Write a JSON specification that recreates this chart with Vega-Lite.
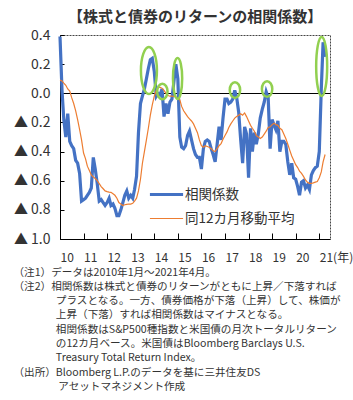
{
  "$schema": "https://vega.github.io/schema/vega-lite/v6.json",
  "width": 270,
  "height": 204,
  "autosize": {"type": "none"},
  "padding": {"left": 60, "top": 35, "right": 23, "bottom": 161},
  "background": "white",
  "config": {
    "font": "Noto Sans CJK JP",
    "view": {"stroke": "#444", "strokeDash": [2, 1]}
  },
  "title": {
    "text": "【株式と債券のリターンの相関係数】",
    "fontSize": 15,
    "fontWeight": "bold",
    "color": "#333",
    "offset": 3,
    "anchor": "middle"
  },
  "data": {
    "values": [
      {"d": "2010-01", "相関係数": 0.39, "同12カ月移動平均": 0.09},
      {"d": "2010-02", "相関係数": 0.02, "同12カ月移動平均": 0.085},
      {"d": "2010-03", "相関係数": -0.18, "同12カ月移動平均": 0.07},
      {"d": "2010-04", "相関係数": -0.30, "同12カ月移動平均": 0.055},
      {"d": "2010-05", "相関係数": -0.14, "同12カ月移動平均": 0.03},
      {"d": "2010-06", "相関係数": -0.33, "同12カ月移動平均": 0.015},
      {"d": "2010-07", "相関係数": -0.36, "同12カ月移動平均": -0.03},
      {"d": "2010-08", "相関係数": -0.38, "同12カ月移動平均": -0.07},
      {"d": "2010-09", "相関係数": -0.46, "同12カ月移動平均": -0.12},
      {"d": "2010-10", "相関係数": -0.48, "同12カ月移動平均": -0.18},
      {"d": "2010-11", "相関係数": -0.55, "同12カ月移動平均": -0.25},
      {"d": "2010-12", "相関係数": -0.74, "同12カ月移動平均": -0.32},
      {"d": "2011-01", "相関係数": -0.73, "同12カ月移動平均": -0.41},
      {"d": "2011-02", "相関係数": -0.72, "同12カ月移動平均": -0.45},
      {"d": "2011-03", "相関係数": -0.70, "同12カ月移動平均": -0.50},
      {"d": "2011-04", "相関係数": -0.68, "同12カ月移動平均": -0.53},
      {"d": "2011-05", "相関係数": -0.65, "同12カ月移動平均": -0.56},
      {"d": "2011-06", "相関係数": -0.44, "同12カ月移動平均": -0.575},
      {"d": "2011-07", "相関係数": -0.52, "同12カ月移動平均": -0.585},
      {"d": "2011-08", "相関係数": -0.62, "同12カ月移動平均": -0.60},
      {"d": "2011-09", "相関係数": -0.74, "同12カ月移動平均": -0.62},
      {"d": "2011-10", "相関係数": -0.73, "同12カ月移動平均": -0.64},
      {"d": "2011-11", "相関係数": -0.75, "同12カ月移動平均": -0.655},
      {"d": "2011-12", "相関係数": -0.77, "同12カ月移動平均": -0.67},
      {"d": "2012-01", "相関係数": -0.75, "同12カ月移動平均": -0.675},
      {"d": "2012-02", "相関係数": -0.72, "同12カ月移動平均": -0.678},
      {"d": "2012-03", "相関係数": -0.77, "同12カ月移動平均": -0.68},
      {"d": "2012-04", "相関係数": -0.76, "同12カ月移動平均": -0.69},
      {"d": "2012-05", "相関係数": -0.79, "同12カ月移動平均": -0.70},
      {"d": "2012-06", "相関係数": -0.84, "同12カ月移動平均": -0.72},
      {"d": "2012-07", "相関係数": -0.84, "同12カ月移動平均": -0.75},
      {"d": "2012-08", "相関係数": -0.80, "同12カ月移動平均": -0.76},
      {"d": "2012-09", "相関係数": -0.75, "同12カ月移動平均": -0.77},
      {"d": "2012-10", "相関係数": -0.70, "同12カ月移動平均": -0.765},
      {"d": "2012-11", "相関係数": -0.67, "同12カ月移動平均": -0.762},
      {"d": "2012-12", "相関係数": -0.72, "同12カ月移動平均": -0.76},
      {"d": "2013-01", "相関係数": -0.70, "同12カ月移動平均": -0.76},
      {"d": "2013-02", "相関係数": -0.72, "同12カ月移動平均": -0.755},
      {"d": "2013-03", "相関係数": -0.66, "同12カ月移動平均": -0.74},
      {"d": "2013-04", "相関係数": -0.57, "同12カ月移動平均": -0.72},
      {"d": "2013-05", "相関係数": -0.27, "同12カ月移動平均": -0.67},
      {"d": "2013-06", "相関係数": -0.07, "同12カ月移動平均": -0.59},
      {"d": "2013-07", "相関係数": -0.02, "同12カ月移動平均": -0.48},
      {"d": "2013-08", "相関係数": 0.03, "同12カ月移動平均": -0.40},
      {"d": "2013-09", "相関係数": 0.10, "同12カ月移動平均": -0.32},
      {"d": "2013-10", "相関係数": 0.17, "同12カ月移動平均": -0.24},
      {"d": "2013-11", "相関係数": 0.23, "同12カ月移動平均": -0.15},
      {"d": "2013-12", "相関係数": 0.24, "同12カ月移動平均": -0.08},
      {"d": "2014-01", "相関係数": 0.15, "同12カ月移動平均": -0.02},
      {"d": "2014-02", "相関係数": -0.02, "同12カ月移動平均": 0.02},
      {"d": "2014-03", "相関係数": 0.00, "同12カ月移動平均": 0.04},
      {"d": "2014-04", "相関係数": -0.01, "同12カ月移動平均": 0.04},
      {"d": "2014-05", "相関係数": 0.03, "同12カ月移動平均": 0.035},
      {"d": "2014-06", "相関係数": -0.16, "同12カ月移動平均": 0.02},
      {"d": "2014-07", "相関係数": -0.07, "同12カ月移動平均": 0.0},
      {"d": "2014-08", "相関係数": -0.14, "同12カ月移動平均": -0.015},
      {"d": "2014-09", "相関係数": -0.06, "同12カ月移動平均": -0.02},
      {"d": "2014-10", "相関係数": -0.04, "同12カ月移動平均": -0.02},
      {"d": "2014-11", "相関係数": 0.08, "同12カ月移動平均": -0.022},
      {"d": "2014-12", "相関係数": 0.20, "同12カ月移動平均": -0.025},
      {"d": "2015-01", "相関係数": 0.10, "同12カ月移動平均": -0.035},
      {"d": "2015-02", "相関係数": -0.30, "同12カ月移動平均": -0.045},
      {"d": "2015-03", "相関係数": -0.37, "同12カ月移動平均": -0.09},
      {"d": "2015-04", "相関係数": -0.38, "同12カ月移動平均": -0.12},
      {"d": "2015-05", "相関係数": -0.36, "同12カ月移動平均": -0.14},
      {"d": "2015-06", "相関係数": -0.29, "同12カ月移動平均": -0.16},
      {"d": "2015-07", "相関係数": -0.26, "同12カ月移動平均": -0.175},
      {"d": "2015-08", "相関係数": -0.32, "同12カ月移動平均": -0.19},
      {"d": "2015-09", "相関係数": -0.38, "同12カ月移動平均": -0.21},
      {"d": "2015-10", "相関係数": -0.42, "同12カ月移動平均": -0.24},
      {"d": "2015-11", "相関係数": -0.44, "同12カ月移動平均": -0.27},
      {"d": "2015-12", "相関係数": -0.44, "同12カ月移動平均": -0.32},
      {"d": "2016-01", "相関係数": -0.52, "同12カ月移動平均": -0.36},
      {"d": "2016-02", "相関係数": -0.38, "同12カ月移動平均": -0.37},
      {"d": "2016-03", "相関係数": -0.33, "同12カ月移動平均": -0.36},
      {"d": "2016-04", "相関係数": -0.32, "同12カ月移動平均": -0.365},
      {"d": "2016-05", "相関係数": -0.33, "同12カ月移動平均": -0.37},
      {"d": "2016-06", "相関係数": -0.38, "同12カ月移動平均": -0.38},
      {"d": "2016-07", "相関係数": -0.42, "同12カ月移動平均": -0.395},
      {"d": "2016-08", "相関係数": -0.47, "同12カ月移動平均": -0.40},
      {"d": "2016-09", "相関係数": -0.35, "同12カ月移動平均": -0.38},
      {"d": "2016-10", "相関係数": -0.23, "同12カ月移動平均": -0.36},
      {"d": "2016-11", "相関係数": -0.32, "同12カ月移動平均": -0.345},
      {"d": "2016-12", "相関係数": -0.17, "同12カ月移動平均": -0.315},
      {"d": "2017-01", "相関係数": -0.04, "同12カ月移動平均": -0.29},
      {"d": "2017-02", "相関係数": -0.04, "同12カ月移動平均": -0.265},
      {"d": "2017-03", "相関係数": -0.07, "同12カ月移動平均": -0.235},
      {"d": "2017-04", "相関係数": -0.06, "同12カ月移動平均": -0.21},
      {"d": "2017-05", "相関係数": -0.04, "同12カ月移動平均": -0.19},
      {"d": "2017-06", "相関係数": 0.02, "同12カ月移動平均": -0.17},
      {"d": "2017-07", "相関係数": -0.03, "同12カ月移動平均": -0.16},
      {"d": "2017-08", "相関係数": -0.13, "同12カ月移動平均": -0.15},
      {"d": "2017-09", "相関係数": -0.32, "同12カ月移動平均": -0.14},
      {"d": "2017-10", "相関係数": -0.48, "同12カ月移動平均": -0.15},
      {"d": "2017-11", "相関係数": -0.23, "同12カ月移動平均": -0.135},
      {"d": "2017-12", "相関係数": -0.28, "同12カ月移動平均": -0.16},
      {"d": "2018-01", "相関係数": -0.58, "同12カ月移動平均": -0.19},
      {"d": "2018-02", "相関係数": -0.24, "同12カ月移動平均": -0.22},
      {"d": "2018-03", "相関係数": -0.40, "同12カ月移動平均": -0.24},
      {"d": "2018-04", "相関係数": -0.27, "同12カ月移動平均": -0.26},
      {"d": "2018-05", "相関係数": -0.35, "同12カ月移動平均": -0.29},
      {"d": "2018-06", "相関係数": -0.28, "同12カ月移動平均": -0.30},
      {"d": "2018-07", "相関係数": -0.17, "同12カ月移動平均": -0.31},
      {"d": "2018-08", "相関係数": -0.11, "同12カ月移動平均": -0.30},
      {"d": "2018-09", "相関係数": -0.06, "同12カ月移動平均": -0.28},
      {"d": "2018-10", "相関係数": 0.01, "同12カ月移動平均": -0.26},
      {"d": "2018-11", "相関係数": -0.03, "同12カ月移動平均": -0.235},
      {"d": "2018-12", "相関係数": -0.38, "同12カ月移動平均": -0.23},
      {"d": "2019-01", "相関係数": -0.18, "同12カ月移動平均": -0.215},
      {"d": "2019-02", "相関係数": -0.22, "同12カ月移動平均": -0.205},
      {"d": "2019-03", "相関係数": -0.25, "同12カ月移動平均": -0.215},
      {"d": "2019-04", "相関係数": -0.19, "同12カ月移動平均": -0.22},
      {"d": "2019-05", "相関係数": -0.40, "同12カ月移動平均": -0.24},
      {"d": "2019-06", "相関係数": -0.33, "同12カ月移動平均": -0.25},
      {"d": "2019-07", "相関係数": -0.33, "同12カ月移動平均": -0.28},
      {"d": "2019-08", "相関係数": -0.35, "同12カ月移動平均": -0.31},
      {"d": "2019-09", "相関係数": -0.47, "同12カ月移動平均": -0.35},
      {"d": "2019-10", "相関係数": -0.56, "同12カ月移動平均": -0.39},
      {"d": "2019-11", "相関係数": -0.48, "同12カ月移動平均": -0.43},
      {"d": "2019-12", "相関係数": -0.58, "同12カ月移動平均": -0.46},
      {"d": "2020-01", "相関係数": -0.59, "同12カ月移動平均": -0.49},
      {"d": "2020-02", "相関係数": -0.64, "同12カ月移動平均": -0.51},
      {"d": "2020-03", "相関係数": -0.70, "同12カ月移動平均": -0.535},
      {"d": "2020-04", "相関係数": -0.61, "同12カ月移動平均": -0.55},
      {"d": "2020-05", "相関係数": -0.60, "同12カ月移動平均": -0.57},
      {"d": "2020-06", "相関係数": -0.65, "同12カ月移動平均": -0.595},
      {"d": "2020-07", "相関係数": -0.63, "同12カ月移動平均": -0.61},
      {"d": "2020-08", "相関係数": -0.66, "同12カ月移動平均": -0.618},
      {"d": "2020-09", "相関係数": -0.56, "同12カ月移動平均": -0.618},
      {"d": "2020-10", "相関係数": -0.53, "同12カ月移動平均": -0.615},
      {"d": "2020-11", "相関係数": -0.51, "同12カ月移動平均": -0.61},
      {"d": "2020-12", "相関係数": -0.50, "同12カ月移動平均": -0.605},
      {"d": "2021-01", "相関係数": -0.40, "同12カ月移動平均": -0.58},
      {"d": "2021-02", "相関係数": 0.03, "同12カ月移動平均": -0.54},
      {"d": "2021-03", "相関係数": 0.35, "同12カ月移動平均": -0.47},
      {"d": "2021-04", "相関係数": 0.25, "同12カ月移動平均": -0.42}
    ]
  },
  "encoding": {
    "x": {
      "field": "d",
      "type": "temporal",
      "scale": {"domain": [{"year": 2010, "month": 1, "date": 1}, {"year": 2021, "month": 6, "date": 16}]},
      "axis": {
        "values": [{"year": 2010}, {"year": 2011}, {"year": 2012}, {"year": 2013}, {"year": 2014}, {"year": 2015}, {"year": 2016}, {"year": 2017}, {"year": 2018}, {"year": 2019}, {"year": 2020}, {"year": 2021}],
        "labelExpr": "timeFormat(datum.value, '%y') == '21' ? '21(年)' : timeFormat(datum.value, '%y')",
        "labelAlign": "left",
        "labelDx": -8,
        "labelBaseline": "middle",
        "labelPadding": 24,
        "labelFontSize": 12,
        "labelColor": "#333",
        "labelOverlap": false,
        "labelFlush": false,
        "labelBound": false,
        "grid": false,
        "domainColor": "#000",
        "tickColor": "#000",
        "tickSize": -6,
        "title": [
          "（注1）データは2010年1月～2021年4月。",
          "（注2）相関係数は株式と債券のリターンがともに上昇／下落すれば",
          "​　　　　プラスとなる。一方、債券価格が下落（上昇）して、株価が",
          "​　　　　上昇（下落）すれば相関係数はマイナスとなる。",
          "​　　　　相関係数はS&P500種指数と米国債の月次トータルリターン",
          "​　　　　の12カ月ベース。米国債はBloomberg Barclays U.S.",
          "​　　　　Treasury Total Return Index。",
          "（出所）Bloomberg L.P.のデータを基に三井住友DS",
          "​　　　　 アセットマネジメント作成"
        ],
        "titleFontSize": 10.6,
        "titleFontWeight": "normal",
        "titleColor": "#333",
        "titleAnchor": "start",
        "titleAlign": "left",
        "titleBaseline": "top",
        "titleX": -47,
        "titleY": 28,
        "titleLineHeight": 14.3
      }
    },
    "y": {
      "field": "v",
      "type": "quantitative",
      "scale": {"domain": [-1, 0.4], "nice": false, "zero": false},
      "axis": {
        "values": [-1, -0.8, -0.6, -0.4, -0.2, 0, 0.2, 0.4],
        "labelExpr": "datum.value < -0.001 ? '▲ ' + format(-datum.value, '.1f') : format(datum.value, '.1f')",
        "labelFontSize": 14,
        "labelColor": "#333",
        "labelPadding": 14,
        "labelOverlap": false,
        "labelBound": false,
        "labelFlush": false,
        "tickSize": -4,
        "tickColor": "#000",
        "domainColor": "#000",
        "grid": true,
        "gridColor": "#000",
        "gridOpacity": {"condition": {"test": "abs(datum.value) < 0.001", "value": 1}, "value": 0},
        "title": null
      }
    }
  },
  "layer": [
    {
      "transform": [
        {"fold": ["相関係数", "同12カ月移動平均"], "as": ["s", "v"]},
        {"filter": "datum.s == '相関係数'"}
      ],
      "mark": {"type": "line"},
      "encoding": {
        "color": {
          "field": "s",
          "type": "nominal",
          "scale": {"domain": ["相関係数", "同12カ月移動平均"], "range": ["#4472C4", "#ED7D31"]},
          "legend": {
            "orient": "none",
            "legendX": 88,
            "legendY": 141,
            "title": null,
            "symbolType": "stroke",
            "symbolSize": 1100,
            "symbolStrokeWidth": 2,
            "labelFontSize": 13.5,
            "labelColor": "#333",
            "labelOffset": 0,
            "rowPadding": 0,
            "padding": 0
          }
        },
        "strokeWidth": {
          "field": "s",
          "type": "nominal",
          "scale": {"domain": ["相関係数", "同12カ月移動平均"], "range": [3.2, 1.2]},
          "legend": null
        }
      }
    },
    {
      "transform": [
        {"fold": ["相関係数", "同12カ月移動平均"], "as": ["s", "v"]},
        {"filter": "datum.s == '同12カ月移動平均'"}
      ],
      "mark": {"type": "line"},
      "encoding": {
        "color": {"field": "s", "type": "nominal"},
        "strokeWidth": {"field": "s", "type": "nominal"}
      }
    },
    {
      "data": {
        "values": [
          {"d": "2013-10-10", "v": 0.156, "r": "a"},
          {"d": "2014-05-06", "v": 0.012, "r": "s"},
          {"d": "2014-12-28", "v": 0.101, "r": "b"},
          {"d": "2017-06-04", "v": 0.022, "r": "s"},
          {"d": "2018-10-15", "v": 0.029, "r": "s"},
          {"d": "2021-02-07", "v": 0.184, "r": "c"}
        ]
      },
      "mark": {"type": "point", "filled": false, "strokeWidth": 2.5, "color": "#92D050", "opacity": 1},
      "encoding": {
        "shape": {
          "field": "r",
          "type": "nominal",
          "scale": {
            "domain": ["a", "s", "b", "c"],
            "range": [
              "M0,-23.5A8,23.5,0,1,1,0,23.5A8,23.5,0,1,1,0,-23.5Z",
              "M0,-7.8A5.2,7.8,0,1,1,0,7.8A5.2,7.8,0,1,1,0,-7.8Z",
              "M0,-20.5A4.6,20.5,0,1,1,0,20.5A4.6,20.5,0,1,1,0,-20.5Z",
              "M0,-29.5A5.5,29.5,0,1,1,0,29.5A5.5,29.5,0,1,1,0,-29.5Z"
            ]
          },
          "legend": null
        },
        "size": {"value": 4}
      }
    }
  ]
}
